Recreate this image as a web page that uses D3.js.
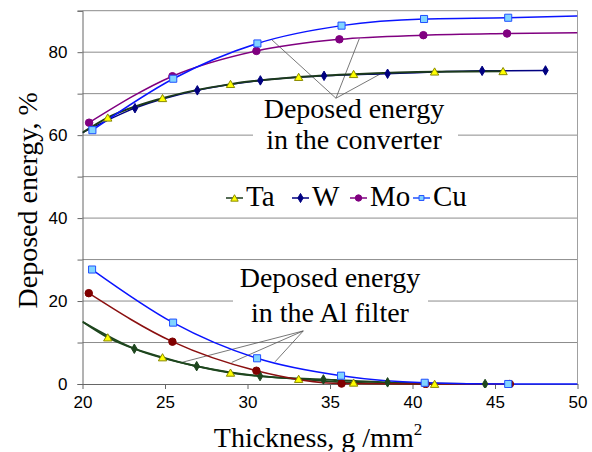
<!DOCTYPE html>
<html>
<head>
<style>
	body { margin: 0; background: #fff; }
	svg text { fill: #000; }
</style>
<script src="https://d3js.org/d3.v7.min.js"></script>
</head>
<body>
<div id="chart"></div>
<script>
	// Deposed energy in the converter (top curves)
	const taConvX = [21.53, 24.85, 28.97, 33.1, 36.43, 41.34, 45.49];
	const taConvY = [64.2, 68.9, 72.3, 74.0, 74.7, 75.3, 75.4];
	const wConvX = [23.18, 26.96, 30.78, 34.64, 38.49, 44.22, 48.06];
	const wConvY = [66.5, 70.8, 73.2, 74.3, 74.8, 75.5, 75.6];
	const moConvX = [20.4, 25.45, 30.54, 35.57, 40.66, 45.73];
	const moConvY = [63.0, 74.2, 80.3, 83.1, 84.1, 84.5];
	const cuConvX = [20.6, 25.5, 30.6, 35.7, 40.7, 45.8];
	const cuConvY = [61.2, 73.6, 82.1, 86.4, 88.0, 88.3];

	// Deposed energy in the Al filter (bottom curves)
	const taFiltX = [21.53, 24.85, 28.97, 33.1, 36.43, 41.34];
	const taFiltY = [11.2, 6.4, 2.7, 1.2, 0.3, 0.0];
	const wFiltX = [23.14, 26.92, 30.76, 34.6, 38.49, 44.4];
	const wFiltY = [8.5, 4.3, 1.9, 1.1, 0.4, 0.0];
	const moFiltX = [20.38, 25.45, 30.54, 35.7, 40.8, 45.9];
	const moFiltY = [21.9, 10.2, 3.2, 0.1, 0.0, 0.0];
	const cuFiltX = [20.58, 25.49, 30.58, 35.67, 40.74, 45.8];
	const cuFiltY = [27.6, 14.8, 6.2, 2.0, 0.3, 0.0];

	// unmarked line ends (where the curves run into the axis / frame)
	const convStart = [20, 60.6];
	const filtStart = [20, 15.0];
	const moConvEnd = [50, 84.7];
	const cuConvEnd = [50, 88.7];
	const cuFiltEnd = [50, 0.0];

	const xTicks = [20, 25, 30, 35, 40, 45, 50];
	const yTicks = [0, 10, 20, 30, 40, 50, 60, 70, 80, 90];
	const yLabels = [0, 20, 40, 60, 80];
	const legendNames = ["Ta", "W", "Mo", "Cu"];

	const width = 592, height = 452;
	const margin = {top: 10.7, right: 14.5, bottom: 68, left: 82.5};

	const svg = d3.select("#chart").append("svg")
		.attr("width", width)
		.attr("height", height);
	svg.append("rect").attr("width", width).attr("height", height).attr("fill", "#fff");

	const x = d3.scaleLinear().domain([20, 50]).range([margin.left, width - margin.right]);
	const y = d3.scaleLinear().domain([0, 90]).range([height - margin.bottom, margin.top]);

	const serif = "'Liberation Serif', 'Times New Roman', serif";
	const sans = "'Liberation Sans', Arial, sans-serif";

	// gridlines
	svg.append("g").selectAll("line")
		.data(yTicks.filter(d => d > 0))
		.enter().append("line")
		.attr("x1", x(20)).attr("x2", x(50))
		.attr("y1", d => y(d)).attr("y2", d => y(d))
		.attr("stroke", "#8c8c8c").attr("stroke-width", 1);
	// right frame
	svg.append("line")
		.attr("x1", x(50)).attr("x2", x(50))
		.attr("y1", y(0)).attr("y2", y(90))
		.attr("stroke", "#a0a0a0");

	// white boxes behind the annotation texts
	svg.append("rect").attr("x", 253).attr("y", 100).attr("width", 205).attr("height", 52).attr("fill", "#fff");
	svg.append("rect").attr("x", 233).attr("y", 266).attr("width", 195).attr("height", 68).attr("fill", "#fff");

	// axes
	const yAxis = d3.axisLeft(y).tickValues(yTicks).tickSize(5)
		.tickFormat(d => yLabels.includes(d) ? d : "");
	const gy = svg.append("g").attr("transform", `translate(${x(20)},0)`).call(yAxis);
	const xAxis = d3.axisBottom(x).tickValues(xTicks).tickSize(5).tickSizeOuter(0);
	const gx = svg.append("g").attr("transform", `translate(0,${y(0)})`).call(xAxis);
	[gx, gy].forEach(g => {
		g.select(".domain").attr("stroke", "#666");
		g.selectAll(".tick line").attr("stroke", "#666");
		g.selectAll(".tick text").attr("font-family", sans).attr("font-size", 17).attr("fill", "#000");
	});
	gy.selectAll(".tick text").attr("x", -15);
	gx.selectAll(".tick text").attr("dy", "1.05em").attr("y", 6);

	// axis titles
	svg.append("text")
		.attr("transform", `translate(37,${(y(0) + y(90)) / 2 + 3}) rotate(-90)`)
		.attr("text-anchor", "middle")
		.attr("font-family", serif).attr("font-size", 28)
		.text("Deposed energy, %");
	const xt = svg.append("text")
		.attr("x", 318).attr("y", 447)
		.attr("text-anchor", "middle")
		.attr("font-family", serif).attr("font-size", 28)
		.text("Thickness, g /mm");
	xt.append("tspan").attr("font-size", 17).attr("dy", -12).text("2");

	// clip to plot area
	svg.append("clipPath").attr("id", "plot")
		.append("rect").attr("x", x(20)).attr("y", y(90) - 10)
		.attr("width", x(50) - x(20)).attr("height", y(0) - y(90) + 14);

	const line = d3.line().x(d => x(d[0])).y(d => y(d[1])).curve(d3.curveMonotoneX);
	const zip = (xs, ys) => xs.map((v, i) => [v, ys[i]]);

	// annotation pointer lines
	const pointers = [
		[[35.36, 68.9], [31.47, 83.0]],
		[[35.36, 68.9], [36.78, 83.3]],
		[[35.36, 68.9], [38.03, 74.7]],
		[[33.38, 12.8], [26.01, 5.2]],
		[[33.38, 12.8], [29.04, 5.2]],
		[[33.38, 12.8], [31.67, 5.35]]
	];
	svg.append("g").selectAll("line").data(pointers).enter().append("line")
		.attr("x1", d => x(d[0][0])).attr("y1", d => y(d[0][1]))
		.attr("x2", d => x(d[1][0])).attr("y2", d => y(d[1][1]))
		.attr("stroke", "#555").attr("stroke-width", 0.8);

	// annotation texts
	function note(cx, lines, base, step) {
		const t = svg.append("text").attr("text-anchor", "middle")
			.attr("font-family", serif).attr("font-size", 28);
		lines.forEach((s, i) => t.append("tspan").attr("x", cx).attr("y", base + i * step).text(s));
	}
	note(354, ["Deposed energy", "in the converter"], 118, 30.5);
	note(330, ["Deposed energy", "in the Al filter"], 287, 35);

	// markers
	const sym = {
		Ta: d3.symbol().type(d3.symbolTriangle).size(30),
		W: d3.symbol().type(d3.symbolDiamond).size(26),
		Mo: d3.symbol().type(d3.symbolCircle).size(44),
		Cu: d3.symbol().type(d3.symbolSquare).size(50)
	};

	const series = [
		{pts: zip(taFiltX, taFiltY), start: filtStart, line: "#1e461e", w: 1.8, m: "Ta", fill: "#ffff00", stroke: "#8a8a00"},
		{pts: zip(wFiltX, wFiltY), start: filtStart, line: "#1e461e", w: 1.8, m: "W", fill: "#1e461e", stroke: "#1e461e"},
		{pts: zip(moFiltX, moFiltY), line: "#8b1010", w: 1.5, m: "Mo", fill: "#800000", stroke: "#800000"},
		{pts: zip(cuFiltX, cuFiltY), end: cuFiltEnd, line: "#0a14ff", w: 1.5, m: "Cu", fill: "#80d4ff", stroke: "#2050ff"},
		{pts: zip(wConvX, wConvY), start: convStart, line: "#000080", w: 1.5, m: "W", fill: "#000080", stroke: "#000080"},
		{pts: zip(taConvX, taConvY), start: convStart, line: "#1c3a1c", w: 2, m: "Ta", fill: "#ffff00", stroke: "#8a8a00"},
		{pts: zip(moConvX, moConvY), end: moConvEnd, line: "#800080", w: 1.5, m: "Mo", fill: "#800080", stroke: "#800080"},
		{pts: zip(cuConvX, cuConvY), end: cuConvEnd, line: "#0a14ff", w: 1.5, m: "Cu", fill: "#80d4ff", stroke: "#2050ff"}
	];

	const gl = svg.append("g").attr("clip-path", "url(#plot)");
	series.forEach(s => {
		const p = (s.start ? [s.start] : []).concat(s.pts, s.end ? [s.end] : []);
		gl.append("path").attr("d", line(p))
			.attr("fill", "none").attr("stroke", s.line).attr("stroke-width", s.w);
	});
	series.forEach(s => {
		gl.selectAll(null).data(s.pts).enter().append("path")
			.attr("d", sym[s.m])
			.attr("transform", d => `translate(${x(d[0])},${y(d[1]) + (s.m === "Ta" ? 1 : 0)})`)
			.attr("fill", s.fill).attr("stroke", s.stroke).attr("stroke-width", 1);
	});

	// legend
	const legendStyle = {
		Ta: {line: "#1c3a1c", fill: "#ffff00", stroke: "#8a8a00"},
		W: {line: "#000080", fill: "#000080", stroke: "#000080"},
		Mo: {line: "#800080", fill: "#800080", stroke: "#800080"},
		Cu: {line: "#2050ff", fill: "#80d4ff", stroke: "#2050ff"}
	};
	const legendX = [226, 292, 350, 413];
	const lg = svg.append("g");
	legendNames.forEach((n, i) => {
		const lx = legendX[i], ly = 198;
		lg.append("line").attr("x1", lx).attr("x2", lx + 17).attr("y1", ly).attr("y2", ly)
			.attr("stroke", legendStyle[n].line).attr("stroke-width", 1.5);
		lg.append("path").attr("d", d3.symbol().type(sym[n].type()).size(n === "Mo" ? 32 : 24)())
			.attr("transform", `translate(${lx + 8.5},${ly + (n === "Ta" ? 1 : 0)})`)
			.attr("fill", legendStyle[n].fill).attr("stroke", legendStyle[n].stroke).attr("stroke-width", 1);
		lg.append("text").attr("x", lx + 20).attr("y", 206)
			.attr("font-family", serif).attr("font-size", 29)
			.text(n);
	});
</script>
</body>
</html>
